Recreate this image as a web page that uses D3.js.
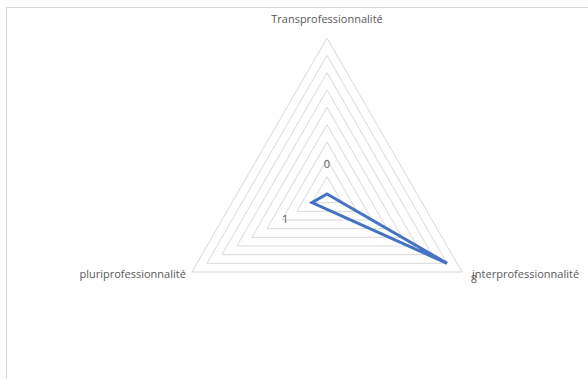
<!DOCTYPE html>
<html>
<head>
<meta charset="utf-8">
<script src="https://cdn.jsdelivr.net/npm/d3@7"></script>
<style>
  body { margin: 0; background: #fff; }
  text { font-family: "Open Sans", sans-serif; fill: #595959; }
</style>
</head>
<body>
<div id="chart"></div>
<script>
// radar chart: 3 axes, one series
var categories = ["Transprofessionnalité", "interprofessionnalité", "pluriprofessionnalité"];
var values = [0, 8, 1];
var maxValue = 9;
var levels = [1, 2, 3, 4, 5, 6, 7, 8, 9];

var width = 588, height = 379;
var cx = 327, cy = 194, radius = 156;

var svg = d3.select("#chart").append("svg")
    .attr("width", width)
    .attr("height", height);

// chart area border (runs off the right and bottom edges)
svg.append("rect")
    .attr("x", 6.5)
    .attr("y", 7.5)
    .attr("width", 700)
    .attr("height", 500)
    .attr("fill", "none")
    .attr("stroke", "#d9d9d9")
    .attr("stroke-width", 1);

var r = d3.scaleLinear()
    .domain([0, maxValue])
    .range([0, radius]);

var angle = d3.scalePoint()
    .domain(categories)
    .range([0, 2 * Math.PI * (categories.length - 1) / categories.length]);

function px(cat, v) { return cx + r(v) * Math.sin(angle(cat)); }
function py(cat, v) { return cy - r(v) * Math.cos(angle(cat)); }

var g = svg.append("g");

// grid rings
var ring = d3.line()
    .x(function(d) { return d.x; })
    .y(function(d) { return d.y; })
    .curve(d3.curveLinearClosed);

g.selectAll(".ring")
    .data(levels)
    .enter().append("path")
    .attr("class", "ring")
    .attr("d", function(lv) {
        return ring(categories.map(function(c) { return {x: px(c, lv), y: py(c, lv)}; }));
    })
    .attr("fill", "none")
    .attr("stroke", "#d9d9d9")
    .attr("stroke-width", 1);

// series
var pts = categories.map(function(c, i) { return {x: px(c, values[i]), y: py(c, values[i])}; });

g.append("path")
    .datum(pts)
    .attr("d", ring)
    .attr("fill", "none")
    .attr("stroke", "#4472c4")
    .attr("stroke-width", 3)
    .attr("stroke-linejoin", "miter")
    .attr("stroke-miterlimit", 4);

// category labels
var labelPos = [
    {dx: 0, dy: -15, anchor: "middle"},
    {dx: 10, dy: 6, anchor: "start"},
    {dx: -6, dy: 6, anchor: "end"}
];

g.selectAll(".cat")
    .data(categories)
    .enter().append("text")
    .attr("class", "cat")
    .attr("x", function(c, i) { return px(c, maxValue) + labelPos[i].dx; })
    .attr("y", function(c, i) { return py(c, maxValue) + labelPos[i].dy; })
    .attr("text-anchor", function(c, i) { return labelPos[i].anchor; })
    .style("font-size", "11px")
    .text(function(c) { return c; });

// data labels, pushed outward along each axis
g.selectAll(".val")
    .data(categories)
    .enter().append("text")
    .attr("class", "val")
    .attr("x", function(c, i) { return px(c, values[i]) + 31 * Math.sin(angle(c)); })
    .attr("y", function(c, i) { return py(c, values[i]) - 31 * Math.cos(angle(c)); })
    .attr("text-anchor", "middle")
    .attr("dominant-baseline", "central")
    .style("font-size", "11px")
    .text(function(c, i) { return values[i]; });
</script>
</body>
</html>
